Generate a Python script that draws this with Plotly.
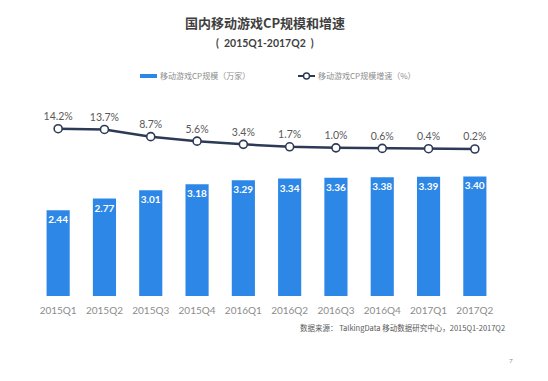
import plotly.graph_objects as go

categories = ["2015Q1", "2015Q2", "2015Q3", "2015Q4", "2016Q1",
              "2016Q2", "2016Q3", "2016Q4", "2017Q1", "2017Q2"]
cp_scale = [2.44, 2.77, 3.01, 3.18, 3.29, 3.34, 3.36, 3.38, 3.39, 3.40]
cp_growth = [14.2, 13.7, 8.7, 5.6, 3.4, 1.7, 1.0, 0.6, 0.4, 0.2]

bar_name = "移动游戏CP规模（万家）"
line_name = "移动游戏CP规模增速（%）"
title_text = "国内移动游戏CP规模和增速"
subtitle_text = "(  2015Q1-2017Q2  )"
source_text = "数据来源： TalkingData 移动数据研究中心，2015Q1-2017Q2"
page_text = "7"

FONT = "Lato, Noto Sans CJK SC, sans-serif"
CJK = "Noto Sans CJK SC, sans-serif"
BAR_C = "#2D87E6"
LINE_C = "#2C3A57"

W, H = 548, 381
L, R, T, B = 35, 50, 110, 85
PW, PH = W - L - R, H - T - B


def px_x(px):
    return (px - L) / PW


def px_y(py):
    return (H - B - py) / PH


fig = go.Figure()
fig.add_trace(go.Bar(
    x=categories, y=cp_scale, name=bar_name,
    marker=dict(color=BAR_C, line=dict(width=0)),
    texttemplate="%{y:.2f}", textposition="inside", insidetextanchor="end",
    textangle=0,
    textfont=dict(color="white", size=10, family="Lato, sans-serif", weight="bold"),
    constraintext="none", cliponaxis=False,
))
fig.add_trace(go.Scatter(
    x=categories, y=cp_growth, name=line_name, yaxis="y2",
    mode="lines+markers+text",
    line=dict(color=LINE_C, width=2.5),
    marker=dict(size=8, color="white", line=dict(color=LINE_C, width=1.6)),
    texttemplate="%{y:.1f}%", textposition="top center",
    textfont=dict(color="#595959", size=10.5, family=FONT),
    cliponaxis=False,
))

# legend (drawn manually to mimic the reference's swatches)
ly = 76
shapes = [
    dict(type="rect", xref="paper", yref="paper",
         x0=px_x(140), x1=px_x(157), y0=px_y(ly + 2), y1=px_y(ly - 2),
         fillcolor=BAR_C, line=dict(width=0)),
    dict(type="line", xref="paper", yref="paper",
         x0=px_x(298), x1=px_x(315), y0=px_y(ly), y1=px_y(ly),
         line=dict(color=LINE_C, width=2)),
    dict(type="circle", xref="paper", yref="paper",
         x0=px_x(303.5), x1=px_x(309.5), y0=px_y(ly + 3), y1=px_y(ly - 3),
         fillcolor="white", line=dict(color=LINE_C, width=1.4)),
]

fig.update_layout(
    width=W, height=H,
    margin=dict(l=L, r=R, t=T, b=B, autoexpand=False),
    paper_bgcolor="white", plot_bgcolor="white",
    bargap=0.5,
    showlegend=False,
    font=dict(family=FONT, color="#595959"),
    title=dict(text="<b>" + title_text + "</b>", x=265 / W, xref="container",
               xanchor="center", y=1 - 23.3 / H, yref="container", yanchor="middle",
               font=dict(size=13, color="#3F3F3F", family=CJK)),
    xaxis=dict(showgrid=False, showline=False, zeroline=False, ticks="",
               range=[-0.5, len(categories) - 0.5],
               tickfont=dict(size=10, color="#8C8C8C", family=FONT),
               ticklabelstandoff=7, automargin=False),
    yaxis=dict(range=[0, 5.29], visible=False, showgrid=False),
    yaxis2=dict(range=[-101.2, 27.1], overlaying="y", visible=False, showgrid=False),
    shapes=shapes,
    annotations=[
        dict(text="<b>" + subtitle_text + "</b>", xref="paper", yref="paper",
             x=px_x(265), y=px_y(43.3), xanchor="center", yanchor="middle",
             showarrow=False, font=dict(size=10.5, color="#3F3F3F", family=FONT)),
        dict(text=bar_name, xref="paper", yref="paper",
             x=px_x(158), y=px_y(ly), xanchor="left", yanchor="middle",
             showarrow=False, font=dict(size=8, color="#8C8C8C", family=CJK)),
        dict(text=line_name, xref="paper", yref="paper",
             x=px_x(316), y=px_y(ly), xanchor="left", yanchor="middle",
             showarrow=False, font=dict(size=8, color="#8C8C8C", family=CJK)),
        dict(text=source_text, xref="paper", yref="paper",
             x=px_x(507), y=px_y(327), xanchor="right", yanchor="middle",
             showarrow=False, font=dict(size=7.5, color="#595959", family=CJK)),
        dict(text=page_text, xref="paper", yref="paper",
             x=px_x(511), y=px_y(360), xanchor="center", yanchor="middle",
             showarrow=False, font=dict(size=6.5, color="#8C8C8C", family=FONT)),
    ],
)

fig.write_html("out.html", config={"displayModeBar": False},
               post_script="document.body.style.margin='0';")
